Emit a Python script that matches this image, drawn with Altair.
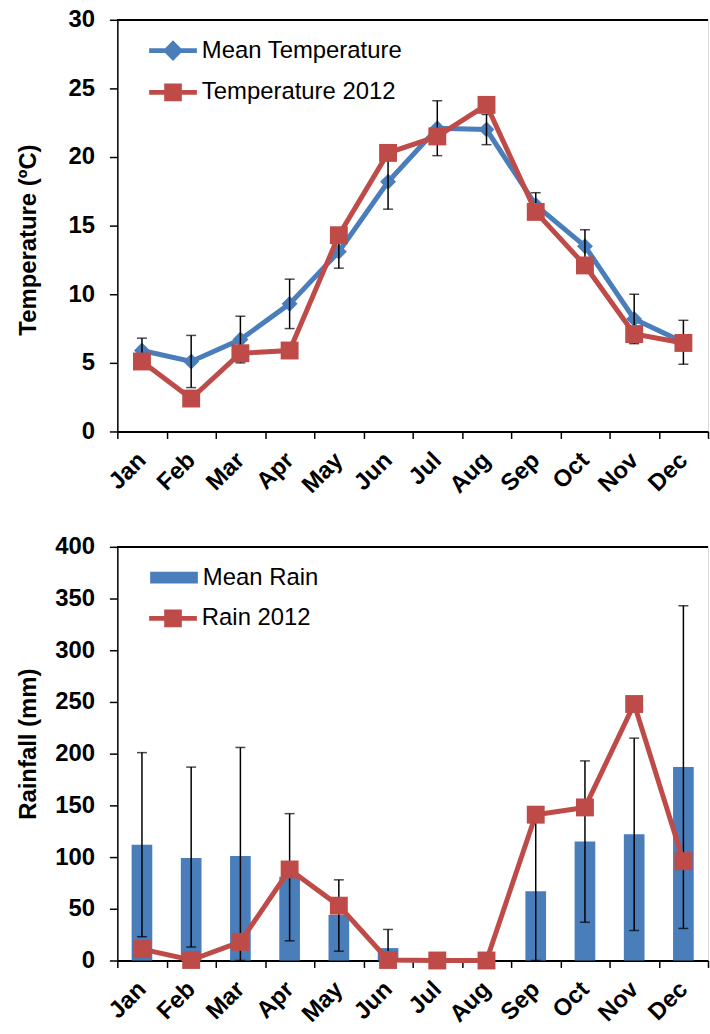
import altair as alt
import pandas as pd

months = ["Jan", "Feb", "Mar", "Apr", "May", "Jun", "Jul", "Aug", "Sep", "Oct", "Nov", "Dec"]

temp_mean = [5.9, 5.1, 6.7, 9.3, 13.1, 18.2, 22.1, 22.0, 16.5, 13.5, 8.2, 6.5]
temp_sd = [0.9, 1.9, 1.7, 1.8, 1.2, 2.0, 2.0, 1.1, 0.9, 1.2, 1.8, 1.6]
temp_2012 = [5.1, 2.4, 5.7, 5.9, 14.3, 20.3, 21.5, 23.8, 16.0, 12.1, 7.1, 6.45]

rain_mean = [112, 99, 101, 81, 44, 12, 0, 0, 67, 115, 122, 187]
rain_lo = [23, 13, 0, 19, 9, 0, 0, 0, 0, 37, 29, 31]
rain_hi = [201, 187, 206, 142, 78, 30, 0, 0, 137, 193, 215, 343]
rain_2012 = [11, 0.5, 18, 88, 53, 0.5, 0, 0, 141, 148, 248, 96]

BLUE = "#4a7ebb"
RED = "#be4b48"
FONT = "Liberation Sans"

W, H_TOP, H_BOT = 594, 414, 416

PATH_DIAMOND = ("M-1,-0.1 L-0.33,-0.1 L0,-0.43 L0.33,-0.1 L1,-0.1 L1,0.1 L0.33,0.1 "
                "L0,0.43 L-0.33,0.1 L-1,0.1 Z")
PATH_SQUARE = ("M-1,-0.1 L-0.37,-0.1 L-0.37,-0.37 L0.37,-0.37 L0.37,-0.1 L1,-0.1 L1,0.1 "
               "L0.37,0.1 L0.37,0.37 L-0.37,0.37 L-0.37,0.1 L-1,0.1 Z")
PATH_BAR = "M-1,-0.25 L1,-0.25 L1,0.25 L-1,0.25 Z"

temp_df = pd.DataFrame({
    "month": months,
    "mean": temp_mean,
    "lo": [m - s for m, s in zip(temp_mean, temp_sd)],
    "hi": [m + s for m, s in zip(temp_mean, temp_sd)],
    "t2012": temp_2012,
    "s_mean": "Mean Temperature",
    "s_2012": "Temperature 2012",
})

rain_df = pd.DataFrame({
    "month": months,
    "mean": rain_mean,
    "lo": rain_lo,
    "hi": rain_hi,
    "r2012": rain_2012,
    "s_mean": "Mean Rain",
    "s_2012": "Rain 2012",
})


def x_enc():
    return alt.X(
        "month:N", sort=months, title=None,
        scale=alt.Scale(type="band", paddingInner=0, paddingOuter=0),
        axis=alt.Axis(
            tickBand="extent", domainColor="black", domainWidth=2,
            tickColor="black", tickWidth=1.5, tickSize=7,
            labelAngle=-45, labelAlign="right", labelBaseline="middle",
            labelFontSize=24, labelFontWeight="bold", labelColor="black",
            labelPadding=18, labelOffset=0, labelFont=FONT,
        ),
    )


def y_axis(title, values, title_y):
    return alt.Axis(
        values=values, grid=False, domainColor="black", domainWidth=1.5,
        tickColor="black", tickWidth=1.5, tickSize=8,
        labelFontSize=24, labelFontWeight="bold", labelColor="black",
        labelPadding=15, labelFont=FONT,
        title=title, titleFontSize=24, titleFontWeight="bold", titleColor="black",
        titleFont=FONT, titleX=-89, titleY=title_y, titleAngle=-90,
        titleAlign="center", titleBaseline="middle",
    )


def legend(path, lx, ly):
    return alt.Legend(
        title=None, orient="none", legendX=lx, legendY=ly,
        symbolType=path, symbolSize=2304, symbolStrokeWidth=0,
        symbolOpacity=1, labelFontSize=24, labelFont=FONT, labelLimit=500,
        labelColor="black", labelOffset=5, padding=0,
    )


# ---------- Temperature panel ----------
tbase = alt.Chart(temp_df)

t_frame = tbase.mark_rule(color="black", strokeWidth=1.5).encode(
    y=alt.Y(datum=30, scale=alt.Scale(domain=[0, 30], nice=False),
            axis=y_axis("Temperature (ºC)", list(range(0, 31, 5)), 221)))
t_err = tbase.mark_rule(color="black", strokeWidth=1.5).encode(
    x=x_enc(), y="lo:Q", y2="hi:Q")
t_cap_hi = tbase.mark_tick(color="black", thickness=1.5, size=10).encode(
    x=x_enc(), y="hi:Q")
t_cap_lo = tbase.mark_tick(color="black", thickness=1.5, size=10).encode(
    x=x_enc(), y="lo:Q")
t_mean = tbase.mark_line(
    strokeWidth=5,
    point=alt.OverlayMarkDef(shape="diamond", size=256, filled=True, opacity=1),
).encode(
    x=x_enc(), y="mean:Q",
    color=alt.Color("s_mean:N", scale=alt.Scale(range=[BLUE]),
                    legend=legend(PATH_DIAMOND, 32, 7)),
)
t_2012 = tbase.mark_line(
    strokeWidth=5,
    point=alt.OverlayMarkDef(shape="square", size=324, filled=True, opacity=1),
).encode(
    x=x_enc(), y="t2012:Q",
    color=alt.Color("s_2012:N", scale=alt.Scale(range=[RED]),
                    legend=legend(PATH_SQUARE, 32, 49)),
)

top = alt.layer(t_frame, t_mean, t_err, t_cap_hi, t_cap_lo, t_2012).resolve_scale(
    color="independent").properties(width=W, height=H_TOP)

# ---------- Rain panel ----------
rbase = alt.Chart(rain_df)
r_frame = rbase.mark_rule(color="black", strokeWidth=1.5).encode(
    y=alt.Y(datum=400, scale=alt.Scale(domain=[0, 400], nice=False),
            axis=y_axis("Rainfall (mm)", list(range(0, 401, 50)), 198)))
r_bar = rbase.mark_bar(width=alt.RelativeBandSize(0.42), opacity=1).encode(
    x=x_enc(), y="mean:Q",
    color=alt.Color("s_mean:N", scale=alt.Scale(range=[BLUE]),
                    legend=legend(PATH_BAR, 33, 7)),
)
ebase = rbase.transform_filter("datum.hi > 0")
r_err = ebase.mark_rule(color="black", strokeWidth=1.5).encode(
    x=x_enc(), y="lo:Q", y2="hi:Q")
r_cap_hi = ebase.mark_tick(color="black", thickness=1.5, size=10).encode(
    x=x_enc(), y="hi:Q")
r_cap_lo = ebase.mark_tick(color="black", thickness=1.5, size=10).encode(
    x=x_enc(), y="lo:Q")
r_2012 = rbase.mark_line(
    strokeWidth=5,
    point=alt.OverlayMarkDef(shape="square", size=324, filled=True, opacity=1),
).encode(
    x=x_enc(), y="r2012:Q",
    color=alt.Color("s_2012:N", scale=alt.Scale(range=[RED]),
                    legend=legend(PATH_SQUARE, 32, 48)),
)

bottom = alt.layer(r_frame, r_bar, r_err, r_cap_hi, r_cap_lo, r_2012).resolve_scale(
    color="independent").properties(width=W, height=H_BOT)

chart = alt.vconcat(top, bottom, spacing=116, bounds="flush").properties(
    padding={"left": 16, "top": 4, "right": 0, "bottom": 0},
    background="white",
).configure_view(stroke="transparent").configure(font=FONT)

chart.save("out.html", embed_options={"renderer": "svg", "actions": False})
